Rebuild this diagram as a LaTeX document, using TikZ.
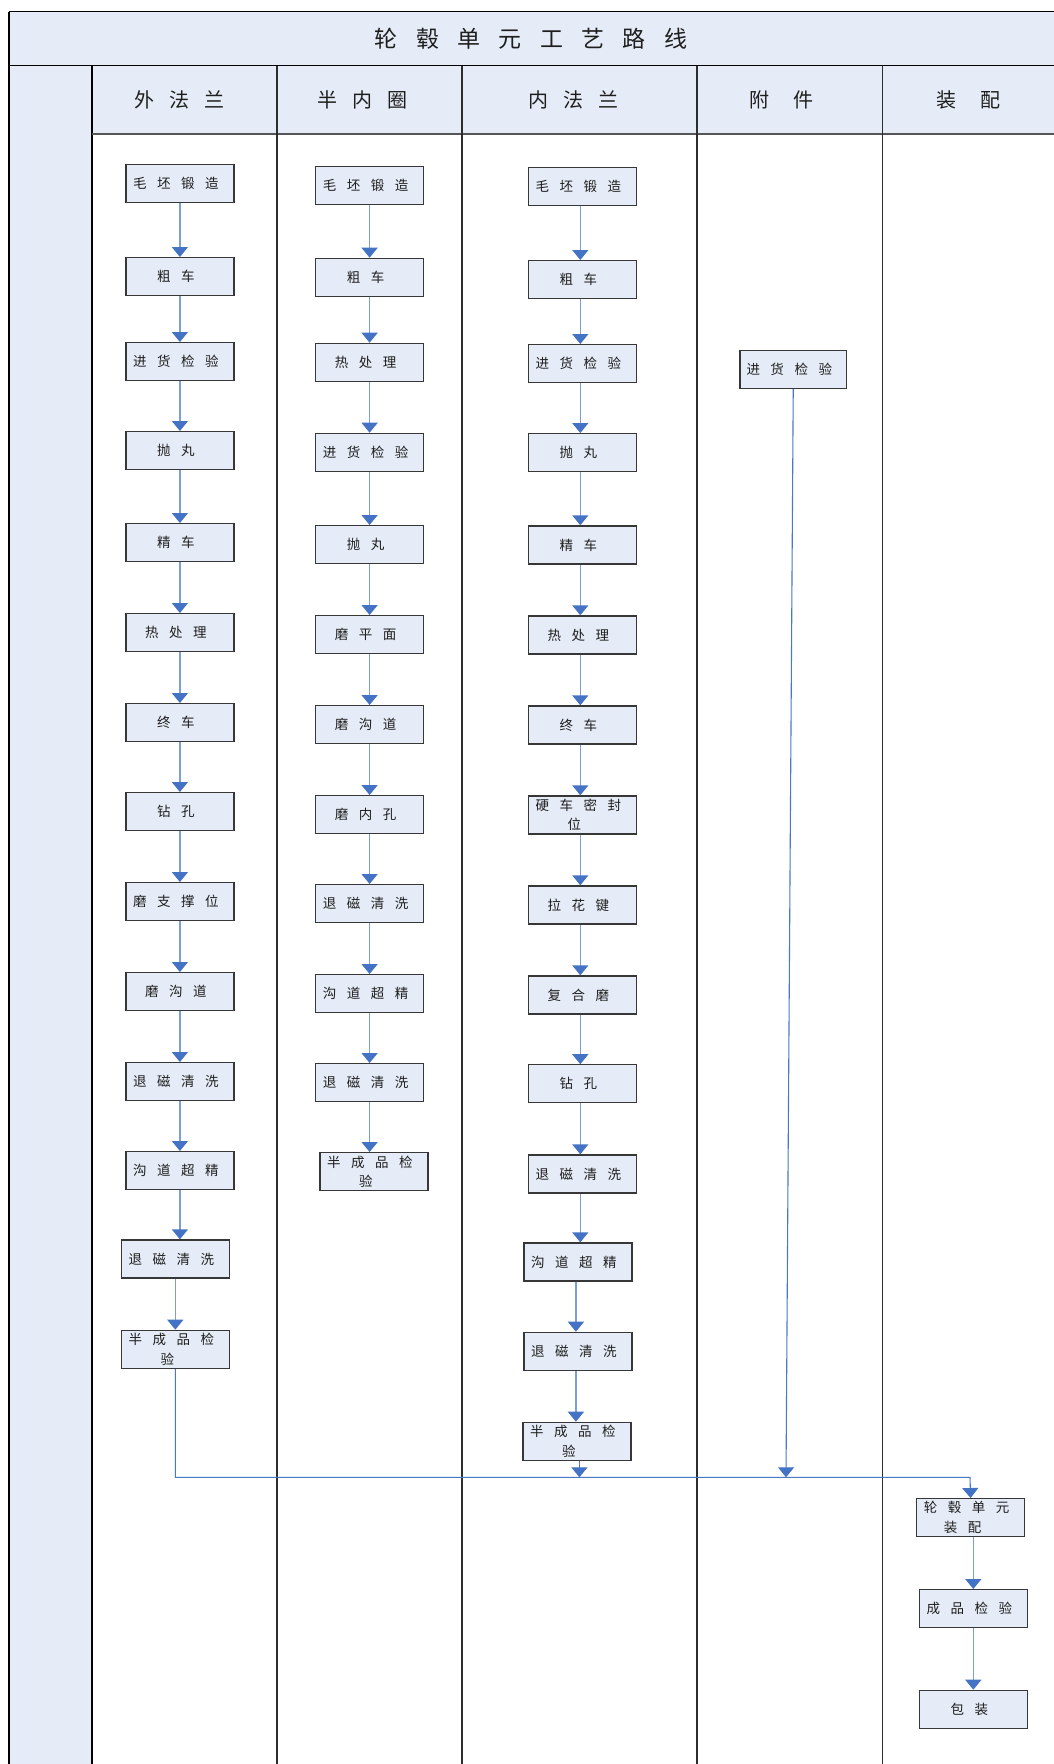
\documentclass[tikz,border=0pt]{standalone}
\usepackage{fontspec}
\newfontfamily\cjk{Noto Sans CJK SC}
\usetikzlibrary{arrows.meta}
\definecolor{bandfill}{RGB}{230,236,247}
\definecolor{boxfill}{RGB}{230,236,247}
\definecolor{linec}{RGB}{122,158,214}
\definecolor{longc}{RGB}{72,120,198}
\definecolor{arrc}{RGB}{68,114,196}
\definecolor{framec}{RGB}{55,55,55}
\definecolor{lanec}{RGB}{45,45,45}
\definecolor{txtc}{RGB}{30,30,30}
\newcommand\boxfont{\cjk\fontsize{13.5}{19.5}\selectfont\spaceskip=10.5pt\xspaceskip=10.5pt\relax}
\newcommand\headfont{\cjk\fontsize{20}{24}\selectfont\spaceskip=15pt\xspaceskip=15pt\relax}
\newcommand\titlefont{\cjk\fontsize{23}{28}\selectfont\spaceskip=18.3pt\xspaceskip=18.3pt\relax}
\newcommand\lsh{\hspace*{-8pt}}
\begin{document}
\begin{tikzpicture}[x=1pt,y=-1pt,
  box/.style={draw=framec, line width=1.2pt, fill=boxfill, minimum width=108pt,
    minimum height=38pt, inner sep=0pt, anchor=north west, align=center,
    text=txtc, font=\boxfont, execute at begin node=\lsh},
  arr/.style={draw=linec, line width=1.6pt, -{Triangle[width=16pt,length=10pt,color=arrc]}},
  busarr/.style={draw=longc, line width=1.1pt, -{Triangle[width=16pt,length=10pt,color=arrc]}},
  head/.style={inner sep=0pt, text=txtc, font=\headfont},
  lane/.style={draw=lanec, line width=1.6pt}]
\useasboundingbox (0,0) rectangle (1054,1764);
\clip (0,0) rectangle (1054,1764);
% bands
\fill[bandfill] (9.3,11.7) rectangle (1070,65.5);
\fill[bandfill] (91.7,65.5) rectangle (1070,134);
\fill[bandfill] (9.3,65.5) rectangle (91.7,1780);
% frame lines
\draw[line width=2.2pt, black] (9.3,1780) -- (9.3,11.7);
\draw[line width=1.5pt, black] (9.3,11.7) -- (1070,11.7);
\draw[line width=1.6pt, black] (9.3,65.5) -- (1070,65.5);
\draw[line width=2.2pt, black] (91.7,65.5) -- (91.7,1780);
\draw[line width=1.3pt, draw={rgb,255:red,85;green,85;blue,85}] (91.7,134) -- (1070,134);
\draw[lane] (276.7,65.5) -- (276.7,1780);
\draw[lane] (462,65.5) -- (462,1780);
\draw[lane] (697,65.5) -- (697,1780);
\draw[lane] (882.3,65.5) -- (882.3,1780);
% title and headers
\node[inner sep=0pt, text=txtc, font=\titlefont] (t) at (531,38.5) {轮 毂 单 元 工 艺 路 线};
\node[head] (h1) at (179,100) {外 法 兰};
\node[head] (h2) at (362.5,100) {半 内 圈};
\node[head] (h3) at (573,100) {内 法 兰};
\node[head] (h4) at (781.5,100) {附\hspace{24pt}件};
\node[head] (h5) at (968,100) {装\hspace{24pt}配};
% 外法兰
\node[box] (a1) at (125.3,164) {毛 坯 锻 造};
\node[box] (a2) at (125.3,257) {粗 车};
\node[box] (a3) at (125.3,342) {进 货 检 验};
\node[box] (a4) at (125.3,431) {抛 丸};
\node[box] (a5) at (125.3,523) {精 车};
\node[box] (a6) at (125.3,613) {热 处 理};
\node[box] (a7) at (125.3,703) {终 车};
\node[box] (a8) at (125.3,792) {钻 孔};
\node[box] (a9) at (125.3,882) {磨 支 撑 位};
\node[box] (a10) at (125.3,972) {磨 沟 道};
\node[box] (a11) at (125.3,1062) {退 磁 清 洗};
\node[box] (a12) at (125.3,1151) {沟 道 超 精};
\node[box] (a13) at (120.7,1239.3) {退 磁 清 洗};
\node[box] (a14) at (120.7,1329.7) {半 成 品 检\\\lsh 验};
% 半内圈
\node[box] (b1) at (315,165.7) {毛 坯 锻 造};
\node[box] (b2) at (315,257.7) {粗 车};
\node[box] (b3) at (315,342.7) {热 处 理};
\node[box] (b4) at (315,432.7) {进 货 检 验};
\node[box] (b5) at (315,525) {抛 丸};
\node[box] (b6) at (315,615) {磨 平 面};
\node[box] (b7) at (315,705) {磨 沟 道};
\node[box] (b8) at (315,795) {磨 内 孔};
\node[box] (b9) at (315,884) {退 磁 清 洗};
\node[box] (b10) at (315,974) {沟 道 超 精};
\node[box] (b11) at (315,1063) {退 磁 清 洗};
\node[box] (b12) at (319.3,1152) {半 成 品 检\\\lsh 验};
% 内法兰
\node[box] (c1) at (527.7,166.5) {毛 坯 锻 造};
\node[box] (c2) at (527.7,260) {粗 车};
\node[box] (c3) at (527.7,344) {进 货 检 验};
\node[box] (c4) at (527.7,433) {抛 丸};
\node[box] (c5) at (527.7,525.3) {精 车};
\node[box] (c6) at (527.7,615.3) {热 处 理};
\node[box] (c7) at (527.7,705.3) {终 车};
\node[box] (c8) at (527.7,795.3) {硬 车 密 封\\\lsh 位};
\node[box] (c9) at (527.7,885.3) {拉 花 键};
\node[box] (c10) at (527.7,975.3) {复 合 磨};
\node[box] (c11) at (527.7,1064.2) {钻 孔};
\node[box] (c12) at (527.7,1154.3) {退 磁 清 洗};
\node[box] (c13) at (523.3,1242.3) {沟 道 超 精};
\node[box] (c14) at (523.3,1331.7) {退 磁 清 洗};
\node[box] (c15) at (522.3,1421.7) {半 成 品 检\\\lsh 验};
% 附件
\node[box, minimum width=106.7pt] (d1) at (739.3,350) {进 货 检 验};
% 装配
\node[box] (e1) at (916,1498) {轮 毂 单 元\\\lsh 装 配};
\node[box] (e2) at (918.7,1589) {成 品 检 验};
\node[box] (e3) at (918.7,1689.7) {包 装};
% connectors within columns
\foreach \i [evaluate=\i as \j using int(\i+1)] in {1,...,13}
  \draw[arr] (a\i.south) -- (a\i.south |- a\j.north);
\foreach \i [evaluate=\i as \j using int(\i+1)] in {1,...,11}
  \draw[arr] (b\i.south) -- (b\i.south |- b\j.north);
\foreach \i [evaluate=\i as \j using int(\i+1)] in {1,...,14}
  \draw[arr] ([xshift=-2pt]c\i.south) -- ([xshift=-2pt]c\i.south |- c\j.north);
\draw[arr] (e2.north |- e1.south) -- (e2.north);
\draw[arr] (e2.south) -- (e3.north);
% collector bus
\coordinate (bus) at (970,1477.3);
\coordinate (dend) at (786,1477.3);
\draw[busarr] (a14.south) |- (bus) -- (e1.north);
\draw[busarr] ([xshift=2.5pt]c15.south) -- ([xshift=2.5pt]c15.south |- bus);
\draw[busarr] (d1.south) -- (dend);
\end{tikzpicture}
\end{document}
